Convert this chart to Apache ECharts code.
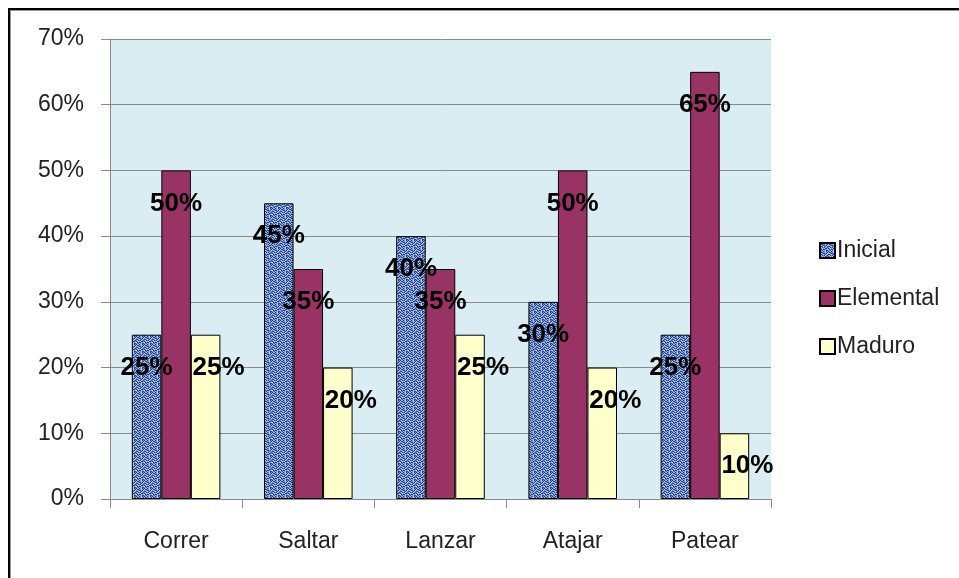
<!DOCTYPE html>
<html lang="es">
<head>
    <meta charset="UTF-8">
    <script src="https://cdn.jsdelivr.net/npm/echarts@6/dist/echarts.min.js"></script>
    <style>
        html, body { margin: 0; padding: 0; background: #fff; }
        #frame {
            position: absolute; left: 8px; top: 8px; width: 2000px; height: 2000px;
            border-top: 2px solid #000; border-left: 2px solid #000;
            box-shadow: inset 1px 1px 0 #999;
        }
        #main { position: absolute; left: 0; top: 0; width: 959px; height: 578px; }
    </style>
</head>
<body>
    <div id="frame"></div>
    <div id="main"></div>
<script>
    var categorias = ['Correr', 'Saltar', 'Lanzar', 'Atajar', 'Patear'];
    var inicial   = [25, 45, 40, 30, 25];
    var elemental = [50, 35, 35, 50, 65];
    var maduro    = [25, 20, 25, 20, 10];

    // textura azul moteada para "Inicial"
    function textura() {
        var c = document.createElement('canvas');
        c.width = 8; c.height = 8;
        var ctx = c.getContext('2d');
        ctx.fillStyle = '#7391d0';
        ctx.fillRect(0, 0, 8, 8);
        var oscuro = [
            '10010010',
            '01100001',
            '00011010',
            '11000100',
            '00101001',
            '10000110',
            '01011000',
            '00100011'
        ];
        var claro = [
            '00100100',
            '10000100',
            '01000001',
            '00010010',
            '01000100',
            '00101000',
            '10000001',
            '00010100'
        ];
        for (var y = 0; y < 8; y++) {
            for (var x = 0; x < 8; x++) {
                if (oscuro[y][x] === '1') { ctx.fillStyle = '#26437f'; ctx.fillRect(x, y, 1, 1); }
                else if (claro[y][x] === '1') { ctx.fillStyle = '#b4c8ee'; ctx.fillRect(x, y, 1, 1); }
            }
        }
        return c;
    }

    var fuente = "'Liberation Sans', Arial, sans-serif";
    var etiqueta = {
        show: true,
        position: 'insideTop',
        distance: 20,
        formatter: '{c}%',
        color: '#000',
        fontWeight: 'bold',
        fontSize: 26,
        fontFamily: fuente
    };

    var myChart = echarts.init(document.getElementById('main'));
    var option = {
        animation: false,
        backgroundColor: 'transparent',
        grid: {
            left: 110, right: 188, top: 39, bottom: 79,
            show: true, backgroundColor: '#daedf2', borderWidth: 0
        },
        legend: {
            orient: 'vertical',
            left: 814,
            top: 234,
            icon: 'rect',
            itemWidth: 15,
            itemHeight: 15,
            itemGap: 25,
            textStyle: { fontSize: 23, fontFamily: fuente, color: '#222', padding: [0, 0, 0, -3] },
            data: ['Inicial', 'Elemental', 'Maduro']
        },
        xAxis: {
            type: 'category',
            data: categorias,
            axisLine: { lineStyle: { color: '#8a8a8a' } },
            axisTick: { show: true, length: 9, lineStyle: { color: '#8a8a8a' } },
            axisLabel: { fontSize: 23, fontFamily: fuente, color: '#222', margin: 31 }
        },
        yAxis: {
            type: 'value',
            min: 0, max: 70, interval: 10,
            axisLine: { show: true, lineStyle: { color: '#8a8a8a' } },
            axisTick: { show: true, length: 9, lineStyle: { color: '#8a8a8a' } },
            axisLabel: { formatter: '{value}%', fontSize: 23, fontFamily: fuente, color: '#222', margin: 26 },
            splitLine: { lineStyle: { color: '#8a8a8a' } }
        },
        series: [
            {
                name: 'Inicial', type: 'bar', data: inicial,
                barGap: '0%', barCategoryGap: '33%',
                itemStyle: { color: { image: textura(), repeat: 'repeat' }, borderColor: '#000', borderWidth: 1 },
                label: etiqueta
            },
            {
                name: 'Elemental', type: 'bar', data: elemental,
                itemStyle: { color: '#993366', borderColor: '#000', borderWidth: 1 },
                label: etiqueta
            },
            {
                name: 'Maduro', type: 'bar', data: maduro,
                itemStyle: { color: '#ffffcc', borderColor: '#000', borderWidth: 1 },
                label: Object.assign({}, etiqueta, { offset: [13, 0] })
            }
        ]
    };
    myChart.setOption(option);
</script>
</body>
</html>
